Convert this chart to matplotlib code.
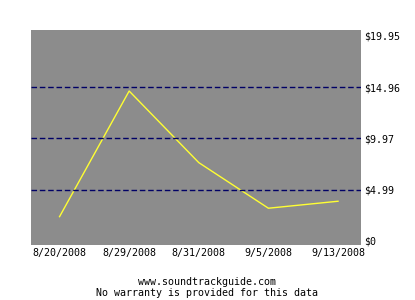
import matplotlib
matplotlib.use("Agg")
import matplotlib.pyplot as plt

# price history
datas = ['8/20/2008', '8/29/2008', '8/31/2008', '9/5/2008', '9/13/2008']
precos = [2.36, 14.59, 7.62, 3.18, 3.86]
ticks_y = [0, 4.99, 9.97, 14.96, 19.95]
rotulos_y = ['$0', '$4.99', '$9.97', '$14.96', '$19.95']
linhas_grade = [4.99, 9.97, 14.96]

fonte = 'DejaVu Sans Mono'

fig = plt.figure(figsize=(4.15, 3.0), dpi=100)
ax = fig.add_axes([31 / 415, 1 - 245 / 300, 330 / 415, 215 / 300])
ax.set_facecolor('#8c8c8c')

x = list(range(len(datas)))
ax.plot(x, precos, color='#ffff33', linewidth=1.0)

for g in linhas_grade:
    ax.axhline(g, color='#000066', linewidth=1.0, linestyle=(0, (4, 2)))

ax.set_xlim(-0.41, 4.33)
ax.set_ylim(-0.4, 20.53)

ax.set_xticks(x)
ax.set_xticklabels(datas, fontfamily=fonte, fontsize=7.2)
ax.set_yticks(ticks_y)
ax.set_yticklabels(rotulos_y, fontfamily=fonte, fontsize=7.2)
ax.yaxis.tick_right()
ax.tick_params(axis='both', length=0, pad=2)

for s in ax.spines.values():
    s.set_visible(False)

fig.text(207 / 415, 1 - 282 / 300, 'www.soundtrackguide.com', ha='center', va='center',
         fontfamily=fonte, fontsize=7.2)
fig.text(207 / 415, 1 - 293 / 300, 'No warranty is provided for this data', ha='center',
         va='center', fontfamily=fonte, fontsize=7.2)

fig.savefig('out.png', dpi=100)
